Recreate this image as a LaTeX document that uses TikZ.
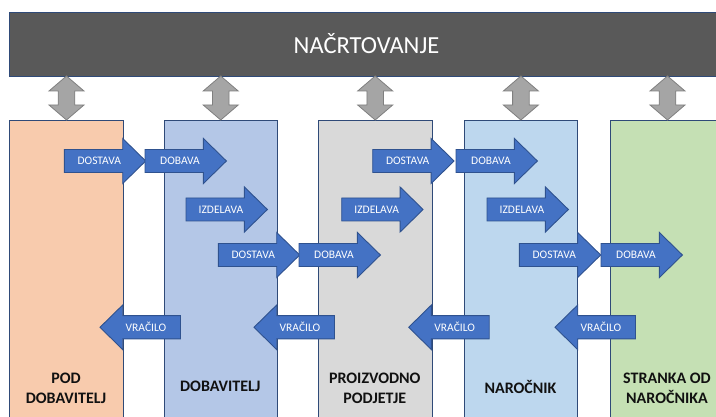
\documentclass[tikz,border=0pt]{standalone}
\usepackage{fontspec}
\setmainfont{Carlito}
\definecolor{barfill}{HTML}{595959}
\definecolor{edgeblue}{HTML}{2F4A78}
\definecolor{peach}{HTML}{F8CBAD}
\definecolor{paleblue}{HTML}{B4C7E7}
\definecolor{palegray}{HTML}{D9D9D9}
\definecolor{skyblue}{HTML}{BDD7EE}
\definecolor{palegreen}{HTML}{C5E0B4}
\definecolor{arrowblue}{HTML}{4472C4}
\definecolor{arrowedge}{HTML}{2F528F}
\definecolor{linkgray}{HTML}{A5A5A5}
\definecolor{linkedge}{HTML}{7F7F7F}
\definecolor{inkdark}{HTML}{111111}

\tikzset{
  lane/.style={draw=edgeblue, line width=0.9pt, minimum width=113.5pt,
    minimum height=310pt, anchor=north west, inner sep=0pt},
  lanelabel/.style={font=\bfseries\fontsize{16}{19.5}\selectfont,
    text=inkdark, align=center, inner sep=0pt},
  flowarrow/.style={fill=arrowblue, draw=arrowedge, line width=0.9pt, line join=miter},
  flowlabel/.style={font=\fontsize{11.5}{13}\selectfont, text=white, inner sep=0pt},
  planlink/.style={fill=linkgray, draw=linkedge, line width=0.8pt, line join=miter},
}

% right-pointing flow arrow: name, left x, centre y, label
\newcommand\flowright[4]{%
  \begin{scope}[shift={(#2,#3)}]
    \draw[flowarrow] (0,-11.5) -- (58.4,-11.5) -- (58.4,-22.5) -- (81.4,0)
      -- (58.4,22.5) -- (58.4,11.5) -- (0,11.5) -- cycle;
    \node[flowlabel] (#1) at (35,0) {#4};
  \end{scope}}

% left-pointing return arrow: name, tip x, centre y, label
\newcommand\flowleft[4]{%
  \begin{scope}[shift={(#2,#3)}]
    \draw[flowarrow] (0,0) -- (22.7,-22.3) -- (22.7,-11.6) -- (80.5,-11.6)
      -- (80.5,11.6) -- (22.7,11.6) -- (22.7,22.3) -- cycle;
    \node[flowlabel] (#1) at (46,0) {#4};
  \end{scope}}

% two-headed link between the planning bar and a lane
\newcommand\planlink[1]{%
  \begin{scope}[shift={(#1.north)}]
    \draw[planlink] (0,0) -- (-17.5,-15) -- (-8.3,-15) -- (-8.3,-29)
      -- (-17.5,-29) -- (0,-44) -- (17.5,-29) -- (8.3,-29) -- (8.3,-15)
      -- (17.5,-15) -- cycle;
  \end{scope}}

\begin{document}
\begin{tikzpicture}[x=1pt, y=-1pt]
  \useasboundingbox (0,0) rectangle (716,417);
  \clip (0,0) rectangle (716,417);

  % planning bar
  \node[fill=barfill, draw=edgeblue, line width=0.9pt, anchor=north west,
    minimum width=715pt, minimum height=63.2pt, inner sep=0pt] (bar) at (9,12.5) {};
  \node[font=\fontsize{24.5}{29}\selectfont, text=white, inner sep=0pt]
    (bartext) at (366.5,44) {NAČRTOVANJE};

  % lanes
  \node[lane, fill=peach]     (c1) at (9.3,120) {};
  \node[lane, fill=paleblue]  (c2) at (163.5,120) {};
  \node[lane, fill=palegray]  (c3) at (318,120) {};
  \node[lane, fill=skyblue]   (c4) at (463.7,120) {};
  \node[lane, fill=palegreen] (c5) at (610.3,120) {};

  % links to the planning bar
  \planlink{c1}
  \planlink{c2}
  \planlink{c3}
  \planlink{c4}
  \planlink{c5}

  % forward flow
  \flowright{d1}{64.3}{161}{DOSTAVA}
  \flowright{b1}{145}{161}{DOBAVA}
  \flowright{i2}{186}{209.5}{IZDELAVA}
  \flowright{d2}{218.3}{255}{DOSTAVA}
  \flowright{b2}{299}{255}{DOBAVA}
  \flowright{i3}{341.7}{209.5}{IZDELAVA}
  \flowright{d3}{372.7}{161}{DOSTAVA}
  \flowright{b3}{456}{161}{DOBAVA}
  \flowright{i4}{487}{209.5}{IZDELAVA}
  \flowright{d4}{519.3}{255}{DOSTAVA}
  \flowright{b4}{601}{255}{DOBAVA}

  % returns
  \flowleft{v1}{100}{327.3}{VRAČILO}
  \flowleft{v2}{254}{327.3}{VRAČILO}
  \flowleft{v3}{408.7}{327.3}{VRAČILO}
  \flowleft{v4}{555}{327.3}{VRAČILO}

  % lane titles
  \node[lanelabel] (t1) at (66,388.5) {POD\\DOBAVITELJ};
  \node[lanelabel] (t2) at (220.3,386.5) {DOBAVITELJ};
  \node[lanelabel] (t3) at (374.8,388.5) {PROIZVODNO\\PODJETJE};
  \node[lanelabel] (t4) at (520.5,387) {NAROČNIK};
  \node[lanelabel] (t5) at (667,388.5) {STRANKA OD\\NAROČNIKA};
\end{tikzpicture}
\end{document}
